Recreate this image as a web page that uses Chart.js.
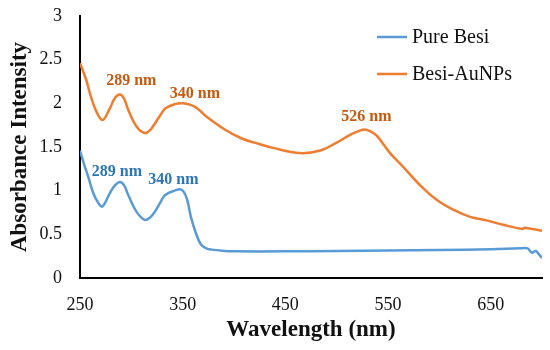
<!DOCTYPE html>
<html>
<head>
<meta charset="utf-8">
<script src="https://cdn.jsdelivr.net/npm/chart.js@4.4.0/dist/chart.umd.min.js"></script>
<style>
  html, body { margin: 0; padding: 0; background: #fff; }
  #wrap { width: 550px; height: 350px; }
</style>
</head>
<body>
<div id="wrap"><canvas id="uvChart"></canvas></div>
<script>
// wavelengths (nm) and absorbance
const pureWl = [250, 254, 258, 263, 268, 272, 279, 284, 289, 293, 297, 305, 313, 318, 323, 328, 333, 342, 349, 354, 358, 363, 368, 373, 378, 391, 400, 450, 500, 550, 600, 650, 680, 686, 690, 694, 697, 700];
const pureAbs = [1.46, 1.30, 1.16, 0.97, 0.855, 0.82, 0.97, 1.06, 1.10, 1.06, 0.95, 0.76, 0.665, 0.69, 0.76, 0.86, 0.95, 1.00, 1.01, 0.91, 0.70, 0.51, 0.38, 0.34, 0.325, 0.31, 0.305, 0.305, 0.31, 0.315, 0.32, 0.33, 0.34, 0.34, 0.29, 0.31, 0.27, 0.23];

const auWl = [250, 256, 260, 266, 272, 279, 284, 289, 293, 297, 305, 313, 318, 323, 328, 333, 342, 350, 362, 373, 391, 407, 420, 438, 464, 484, 500, 513, 521, 527, 533, 539, 552, 565, 581, 598, 614, 630, 646, 662, 681, 683, 700];
const auAbs = [2.46, 2.27, 2.10, 1.905, 1.81, 1.94, 2.06, 2.10, 2.05, 1.925, 1.735, 1.66, 1.69, 1.77, 1.86, 1.94, 1.99, 2.00, 1.96, 1.85, 1.70, 1.60, 1.55, 1.49, 1.43, 1.46, 1.55, 1.64, 1.68, 1.70, 1.68, 1.63, 1.43, 1.27, 1.065, 0.89, 0.78, 0.70, 0.66, 0.61, 0.56, 0.575, 0.54];

const seriesNames = ['Pure Besi', 'Besi-AuNPs'];
const xTicks = [250, 350, 450, 550, 650];
const yTicks = [0, 0.5, 1, 1.5, 2, 2.5, 3];
const yTickLabels = ['0', '0.5', '1', '1.5', '2', '2.5', '3'];

// peak labels: [text, wavelength, absorbance where the label sits, series]
const peakLabels = [
    ['289 nm', 300, 2.26, 1],
    ['340 nm', 362, 2.11, 1],
    ['526 nm', 529, 1.84, 1],
    ['289 nm', 286, 1.22, 0],
    ['340 nm', 341, 1.12, 0]
];

const lineColors = ['#5B9BD5', '#ED7D31'];
const textColors = ['#2E75B6', '#C55A11'];
const serif = "'Liberation Serif', 'DejaVu Serif', serif";

function toPoints(xs, ys){
    return xs.map((x, i) => ({x: x, y: ys[i]}));
}

const extras = {
    id: 'extras',
    afterDatasetsDraw(chart){
        const ctx = chart.ctx;
        const xs = chart.scales.x, ys = chart.scales.y;
        ctx.save();
        // peak labels
        ctx.font = "bold 16px " + serif;
        ctx.textAlign = 'center';
        ctx.textBaseline = 'middle';
        peakLabels.forEach(p => {
            ctx.fillStyle = textColors[p[3]];
            ctx.fillText(p[0], xs.getPixelForValue(p[1]), ys.getPixelForValue(p[2]));
        });
        // legend
        ctx.font = "20px " + serif;
        ctx.textAlign = 'left';
        chart.data.datasets.forEach((ds, i) => {
            const y = 37 + i * 37;
            ctx.strokeStyle = ds.borderColor;
            ctx.lineWidth = 2.5;
            ctx.beginPath();
            ctx.moveTo(377, y);
            ctx.lineTo(407, y);
            ctx.stroke();
            ctx.fillStyle = '#111';
            ctx.fillText(ds.label, 412, y + 1);
        });
        ctx.restore();
    }
};

const uvChart = new Chart(document.getElementById('uvChart'), {
    type: 'line',
    data: {
        datasets: [
            {
                label: seriesNames[0],
                data: toPoints(pureWl, pureAbs),
                borderColor: lineColors[0],
                borderWidth: 2.5,
                pointRadius: 0,
                tension: 0.4
            },
            {
                label: seriesNames[1],
                data: toPoints(auWl, auAbs),
                borderColor: lineColors[1],
                borderWidth: 2.5,
                pointRadius: 0,
                tension: 0.4
            }
        ]
    },
    options: {
        responsive: true,
        maintainAspectRatio: false,
        animation: false,
        layout: { padding: { top: 16, right: 8, left: 0, bottom: 0 } },
        scales: {
            x: {
                type: 'linear',
                min: 250,
                max: 700,
                grid: { display: false, drawTicks: false },
                border: { color: '#000', width: 2 },
                afterBuildTicks: scale => { scale.ticks = xTicks.map(v => ({value: v})); },
                afterFit: scale => { scale.height = 72; scale.paddingLeft = 0; scale.paddingRight = 0; },
                ticks: {
                    color: '#111',
                    font: { family: serif, size: 18 },
                    padding: 16,
                    maxRotation: 0
                },
                title: {
                    display: true,
                    text: 'Wavelength (nm)',
                    color: '#111',
                    font: { family: serif, size: 23, weight: 'bold' },
                    padding: { top: 0, bottom: 6 }
                }
            },
            y: {
                min: 0,
                max: 3,
                grid: { display: false, drawTicks: false },
                border: { color: '#000', width: 2 },
                afterBuildTicks: scale => { scale.ticks = yTicks.map(v => ({value: v})); },
                // tick padding would otherwise push the plot area down
                afterFit: scale => { scale.width = 80; scale.paddingTop = 0; scale.paddingBottom = 0; },
                ticks: {
                    color: '#111',
                    font: { family: serif, size: 18 },
                    padding: 18,
                    callback: (v, i) => yTickLabels[i]
                },
                title: {
                    display: true,
                    text: 'Absorbance Intensity',
                    color: '#111',
                    font: { family: serif, size: 23, weight: 'bold' },
                    padding: { top: 6, bottom: 0 }
                }
            }
        },
        plugins: {
            legend: { display: false },
            tooltip: { enabled: false }
        }
    },
    plugins: [extras]
});
</script>
</body>
</html>
